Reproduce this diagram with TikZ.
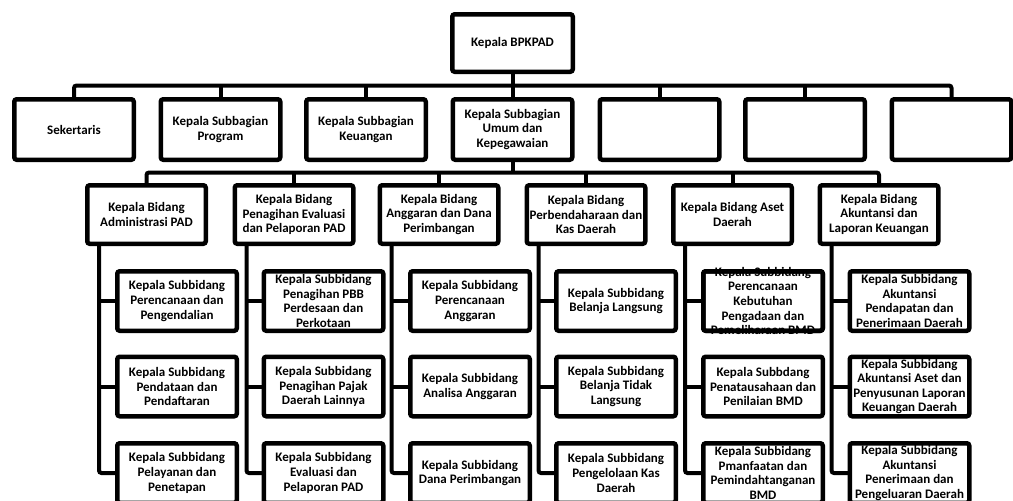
\documentclass[tikz,border=0pt]{standalone}
\usepackage{fontspec}
\setmainfont{Carlito}
\usetikzlibrary{calc}
\begin{document}
\begin{tikzpicture}[x=1pt,y=-1pt,
  txt/.style={align=center, font=\fontsize{13}{14.6}\selectfont\bfseries},
  box/.style={txt, draw=black, line width=4.5pt, fill=white, rounded corners=2.5pt,
    outer sep=0pt, inner sep=1pt, minimum width=119.5pt},
  topbox/.style={box, minimum width=120.5pt, minimum height=57.5pt},
  rowbox/.style={box, minimum height=60.5pt},
  bidbox/.style={box, minimum width=118.5pt, minimum height=58.5pt},
  subbox/.style={box, minimum height=59.5pt},
  frame/.style={draw=black, line width=4.5pt, rounded corners=2.5pt},
  conn/.style={draw=black, line width=4pt, rounded corners=2.5pt}]
\clip (0,0) rectangle (1013,501);
\fill[white] (0,0) rectangle (1013,501);
% level 1
\node[topbox] (top) at (512.5,43) {Kepala BPKPAD};
% level 2
\node[rowbox] (s1) at (74,129.5) {Sekertaris};
\node[rowbox] (s2) at (220.5,129.5) {Kepala Subbagian\\Program};
\node[rowbox] (s3) at (366,129.5) {Kepala Subbagian\\Keuangan};
\node[rowbox] (s4) at (512.5,129.5) {Kepala Subbagian\\Umum dan\\Kepegawaian};
\node[rowbox] (s5) at (659.5,129.5) {};
\node[rowbox] (s6) at (805,129.5) {};
\node[rowbox] (s7) at (951.5,129.5) {};
% level 3
\node[bidbox] (b1) at (146.5,214.5) {Kepala Bidang\\Administrasi PAD};
\node[bidbox] (b2) at (294,214.5) {Kepala Bidang\\Penagihan Evaluasi\\dan Pelaporan PAD};
\node[bidbox] (b3) at (439,214.5) {Kepala Bidang\\Anggaran dan Dana\\Perimbangan};
\node[bidbox] (b4) at (586,214.5) {Kepala Bidang\\Perbendaharaan dan\\Kas Daerah};
\node[bidbox] (b5) at (732.5,214.5) {Kepala Bidang Aset\\Daerah};
\node[bidbox] (b6) at (879,214.5) {Kepala Bidang\\Akuntansi dan\\Laporan Keuangan};
% level 4
\node[subbox] (c11) at (177,301) {Kepala Subbidang\\Perencanaan dan\\Pengendalian};
\node[subbox] (c12) at (177,386.5) {Kepala Subbidang\\Pendataan dan\\Pendaftaran};
\node[subbox] (c13) at (177,473) {Kepala Subbidang\\Pelayanan dan\\Penetapan};
\node[subbox] (c21) at (323.5,301) {Kepala Subbidang\\Penagihan PBB\\Perdesaan dan\\Perkotaan};
\node[subbox] (c22) at (323.5,386.5) {Kepala Subbidang\\Penagihan Pajak\\Daerah Lainnya};
\node[subbox] (c23) at (323.5,473) {Kepala Subbidang\\Evaluasi dan\\Pelaporan PAD};
\node[subbox] (c31) at (470,301) {Kepala Subbidang\\Perencanaan\\Anggaran};
\node[subbox] (c32) at (470,386.5) {Kepala Subbidang\\Analisa Anggaran};
\node[subbox] (c33) at (470,473) {Kepala Subbidang\\Dana Perimbangan};
\node[subbox] (c41) at (616,301) {Kepala Subbidang\\Belanja Langsung};
\node[subbox] (c42) at (616,386.5) {Kepala Subbidang\\Belanja Tidak\\Langsung};
\node[subbox] (c43) at (616,473) {Kepala Subbidang\\Pengelolaan Kas\\Daerah};
\node[subbox] (c51) at (763,301) {};
\node[txt] (t51) at (c51.center)
  {Kepala Subbidang\\Perencanaan\\Kebutuhan\\Pengadaan dan\\Pemeliharaan BMD};
\draw[frame] (c51.south west) rectangle (c51.north east);
\node[subbox] (c52) at (763,386.5) {Kepala Subbdang\\Penatausahaan dan\\Penilaian BMD};
\node[subbox] (c53) at (763,473) {Kepala Subbidang\\Pmanfaatan dan\\Pemindahtanganan\\BMD};
\node[subbox] (c61) at (909.5,301) {Kepala Subbidang\\Akuntansi\\Pendapatan dan\\Penerimaan Daerah};
\node[subbox] (c62) at (909.5,386.5) {Kepala Subbidang\\Akuntansi Aset dan\\Penyusunan Laporan\\Keuangan Daerah};
\node[subbox] (c63) at (909.5,473) {Kepala Subbidang\\Akuntansi\\Penerimaan dan\\Pengeluaran Daerah};
% connectors level 1-2
\coordinate (h1) at ($(top.south)!0.5!(s4.north)$);
\draw[conn] (s1.north) |- (h1) -| (s7.north);
\draw[conn] (top.south) -- (s4.north);
\foreach \i in {2,3,5,6} \draw[conn] (s\i.north) -- (s\i.north |- h1);
% connectors level 2-3
\coordinate (h2) at ($(s4.south)!0.5!(s4.south |- b1.north)$);
\draw[conn] (b1.north) |- (h2) -| (b6.north);
\draw[conn] (s4.south) -- (h2);
\foreach \i in {2,3,4,5} \draw[conn] (b\i.north) -- (b\i.north |- h2);
% connectors level 3-4
\foreach \i in {1,...,6} {
  \coordinate (v\i) at ($(b\i.south)+(-47.5,0)$);
  \draw[conn] (v\i) |- (c\i3.west);
  \draw[conn] (v\i |- c\i1.west) -- (c\i1.west);
  \draw[conn] (v\i |- c\i2.west) -- (c\i2.west);
}
\end{tikzpicture}
\end{document}
